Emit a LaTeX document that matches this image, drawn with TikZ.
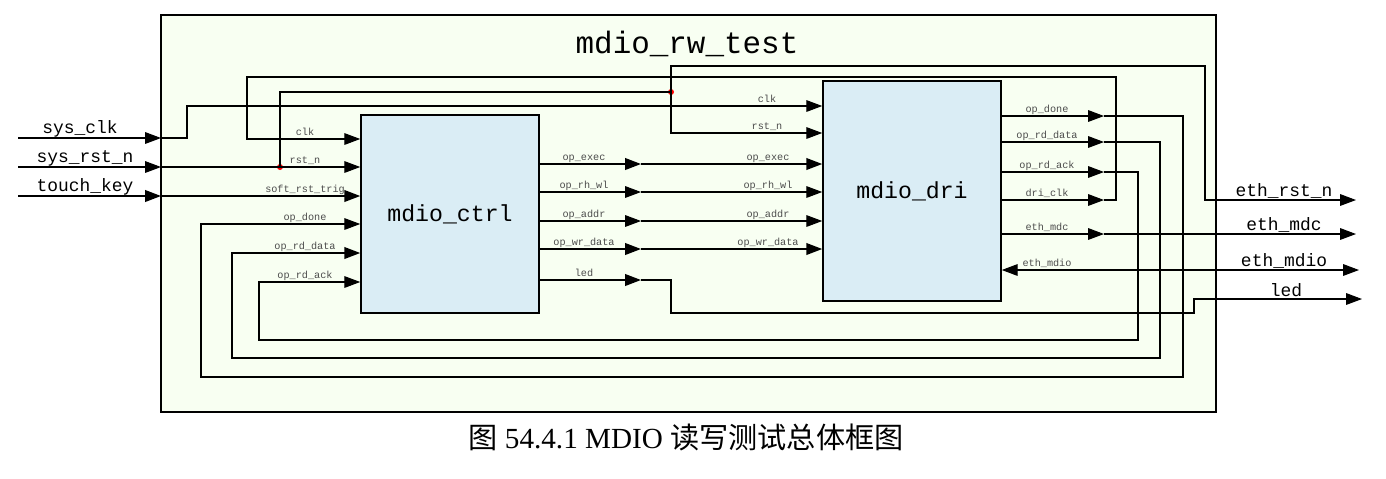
\documentclass[tikz,border=0pt]{standalone}
\usepackage{fontspec}
\setmainfont{Liberation Serif}
\setmonofont{Liberation Mono}
\newfontfamily\cjk{Noto Sans CJK SC}
\usepackage{xcolor}
\usetikzlibrary{arrows.meta, positioning}
\definecolor{topfill}{RGB}{248,255,242}
\definecolor{blkfill}{RGB}{218,237,245}
\tikzset{
  blk/.style={draw, line width=0.9pt, fill=blkfill, inner sep=0pt,
    minimum width=3.56cm, font=\ttfamily\fontsize{13.2}{14}\selectfont},
  sig/.style={line width=0.6pt},
  bus/.style={line width=1pt},
  arr/.style={-{Triangle[length=9pt,width=6.6pt]}},
  biarr/.style={{Triangle[length=9pt,width=6.6pt]}-{Triangle[length=9pt,width=6.6pt]}},
  lbl/.style={inner sep=0pt, anchor=base, text=black!70,
    font=\ttfamily\fontsize{5.8}{6}\selectfont},
  io/.style={inner sep=0pt, anchor=base, font=\ttfamily\fontsize{10.2}{11}\selectfont},
  rdot/.style={circle, fill=red, inner sep=0pt, minimum size=0.12cm}
}

\begin{document}
\begin{tikzpicture}[x=0.02cm, y=-0.02cm]
  \useasboundingbox (0,0) rectangle (1386,478);
  % top level frame
  \draw[line width=1.1pt, fill=topfill] (161,15) rectangle (1216,412);
  \node[inner sep=0pt, anchor=base, font=\ttfamily\fontsize{17.6}{18}\selectfont] (title) at (687,53) {mdio\_rw\_test};
  \node[inner sep=0pt, anchor=base, font=\fontsize{16.6}{18}\selectfont] (caption) at (686,448)
    {{\cjk 图} 54.4.1 MDIO {\cjk 读写测试总体框图}};

  % sub modules
  \node[blk, minimum height=3.96cm] (ctrl) at (450,214) {mdio\_ctrl};
  \node[blk, minimum height=4.4cm] (dri) at (912,191) {mdio\_dri};

  % ports and bends
  \coordinate (clkS) at (18,138);  \coordinate (clkP) at (161,138);
  \coordinate (rstS) at (18,167);  \coordinate (rstP) at (161,167);
  \coordinate (keyS) at (18,196);  \coordinate (keyP) at (161,196);
  \coordinate (ethrstP) at (1356,200);
  \coordinate (mdcP) at (1356,234);
  \coordinate (mdioP) at (1359,270);
  \coordinate (ledP) at (1362,299);
  \node[rdot] (split1) at (280,167) {};
  \node[rdot] (split2) at (671,92) {};

  % inputs
  \draw[sig, arr] (clkS) -- (clkP);
  \draw[sig, arr] (rstS) -- (rstP);
  \draw[bus, arr] (keyS) -- (keyP);
  \node[io] (nclk) at (80,133) {sys\_clk};
  \node[io] (nrst) at (85,162) {sys\_rst\_n};
  \node[io] (nkey) at (85,191) {touch\_key};

  % clocks and resets
  \draw[sig, arr] (clkP) -| (187,106) -- (dri.west |- 0,106);
  \draw[sig, arr] (rstP) -- (ctrl.west |- 0,167);
  \draw[bus, arr] (keyP) -- (ctrl.west |- 0,196);
  \draw[sig] (split1.center) |- (split2.center);
  \draw[sig, arr] (split2.center) |- (dri.west |- 0,133);
  \draw[sig, arr] (split2.center) |- (1205,66) |- (ethrstP);
  \draw[sig, arr] (dri.east |- 0,200) -- (1104,200);
  \draw[sig, arr] (1104,200) -- (1116,200) |- (247,77) |- (ctrl.west |- 0,139);

  % ctrl -> dri
  \foreach \yy/\nm/\ww in {164/op\_exec/bus, 192/op\_rh\_wl/sig, 221/op\_addr/sig, 249/op\_wr\_data/bus}{
    \draw[\ww, arr] (ctrl.east |- 0,\yy) -- (641,\yy);
    \draw[\ww, arr] (641,\yy) -- (dri.west |- 0,\yy);
    \node[lbl] at (584,\yy-4) {\nm};
    \node[lbl] at (768,\yy-4) {\nm};
  }
  \draw[bus, arr] (ctrl.east |- 0,280) -- (641,280);
  \draw[sig, arr] (641,280) -| (671,313) -| (1194,299) -- (ledP);
  \node[lbl] (nledi) at (584,276) {led};
  \node[io] (nled) at (1286,296) {led};

  % dri -> ctrl feedback
  \draw[sig, arr] (dri.east |- 0,116) -- (1104,116);
  \draw[sig, arr] (1104,116) -- (1183,116) |- (201,377) |- (ctrl.west |- 0,224);
  \draw[sig, arr] (dri.east |- 0,142) -- (1104,142);
  \draw[bus, arr] (1104,142) -- (1160,142) |- (232,358) |- (ctrl.west |- 0,253);
  \draw[sig, arr] (dri.east |- 0,172) -- (1104,172);
  \draw[sig, arr] (1104,172) -- (1138,172) |- (259,340) |- (ctrl.west |- 0,282);

  % mdio pins
  \draw[sig, arr] (dri.east |- 0,234) -- (1104,234);
  \draw[sig, arr] (1104,234) -- (mdcP);
  \draw[sig, biarr] (dri.east |- 0,270) -- (mdioP);
  \node[io] (nethrst) at (1284,196) {eth\_rst\_n};
  \node[io] (nmdc) at (1284,230) {eth\_mdc};
  \node[io] (nmdio) at (1284,266) {eth\_mdio};

  % small labels
  \node[lbl] (lclk) at (305,135) {clk};
  \node[lbl] (lrst) at (305,163) {rst\_n};
  \node[lbl] (ltrig) at (305,192) {soft\_rst\_trig};
  \node[lbl] (ldonei) at (305,220) {op\_done};
  \node[lbl] (lrddi) at (305,249) {op\_rd\_data};
  \node[lbl] (lacki) at (305,278) {op\_rd\_ack};
  \node[lbl] (ldclk) at (767,102) {clk};
  \node[lbl] (ldrst) at (767,129) {rst\_n};
  \node[lbl] (ldone) at (1047,112) {op\_done};
  \node[lbl] (lrdd) at (1047,138) {op\_rd\_data};
  \node[lbl] (lack) at (1047,168) {op\_rd\_ack};
  \node[lbl] (ldriclk) at (1047,196) {dri\_clk};
  \node[lbl] (lmdc) at (1047,230) {eth\_mdc};
  \node[lbl] (lmdio) at (1047,266) {eth\_mdio};
\end{tikzpicture}
\end{document}
